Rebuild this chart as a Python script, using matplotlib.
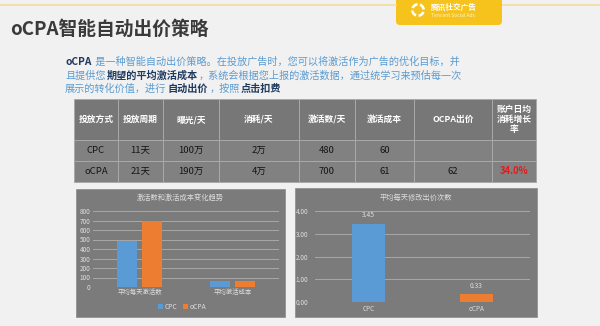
import matplotlib
matplotlib.use("Agg")
import matplotlib.pyplot as plt
from matplotlib.patches import Rectangle, FancyBboxPatch, Wedge
import numpy as np

plt.rcParams['font.family'] = ['Noto Sans CJK SC', 'DejaVu Sans']

# ---- data ----
title = "oCPA智能自动出价策略"
# paragraph runs: (text, bold?)
para_lines = [
    [("oCPA", True), (" 是一种智能自动出价策略。在投放广告时，您可以将激活作为广告的优化目标，并", False)],
    [("且提供您", False), ("期望的平均激活成本", True), ("，系统会根据您上报的激活数据，通过统学习来预估每一次", False)],
    [("展示的转化价值，进行", False), ("自动出价", True), ("，按照", False), ("点击扣费", True)],
]
table_header = ["投放方式", "投放周期", "曝光/天", "消耗/天", "激活数/天", "激活成本", "OCPA出价", "账户日均\n消耗增长\n率"]
table_rows = [
    ["CPC", "11天", "100万", "2万", "480", "60", "", ""],
    ["oCPA", "21天", "190万", "4万", "700", "61", "62", "34.0%"],
]

chart1_title = "激活数和激活成本变化趋势"
chart1_cats = ["平均每天激活数", "平均激活成本"]
chart1_cpc = [480, 60]
chart1_ocpa = [700, 61]

chart2_title = "平均每天修改出价次数"
chart2_cats = ["CPC", "oCPA"]
chart2_vals = [3.45, 0.33]

BLUE = "#5b9bd5"
ORANGE = "#ed7d31"
CHART_BG = "#7b7b7b"
CHART_TXT = "#dedede"
GRID = "#a8a8a8"

W, H = 600, 326
fig = plt.figure(figsize=(6, 3.26), dpi=100)
fig.patch.set_facecolor("#f1f1f1")

# full-figure axes in pixel units for slide decoration
bg = fig.add_axes([0, 0, 1, 1])
bg.set_xlim(0, W)
bg.set_ylim(H, 0)
bg.axis("off")

# top line and logo
bg.plot([0, 396], [5, 5], color="#f3dc9c", lw=1.2)
bg.plot([503, 600], [5, 5], color="#f3dc9c", lw=1.2)
bg.add_patch(FancyBboxPatch((396, -10), 106, 35, boxstyle="round,pad=0,rounding_size=4",
                            fc="#f6c21c", ec="none"))
for a in [20, 110, 200, 290]:
    bg.add_patch(Wedge((418, 10), 7, a, a + 65, width=2.6, fc="white", ec="none"))
bg.text(431, 7, "腾讯社交广告", fontsize=5.5, color="white", va="center", ha="left", fontweight="bold")
bg.text(431, 15.5, "Tencent Social Ads", fontsize=3.6, color="#fff3c8", va="center", ha="left")

# title
bg.text(10, 29, title, fontsize=13.5, fontweight="bold", color="#3a3a3a", va="center", ha="left")

# paragraph
fig.canvas.draw()
renderer = fig.canvas.get_renderer()
y0 = 62
for i, line in enumerate(para_lines):
    x = 65
    y = y0 + i * 13.3
    for txt, bold in line:
        t = bg.text(x, y, txt, fontsize=7.3, va="center", ha="left",
                    fontweight="bold" if bold else "normal",
                    color="#1f3a5f" if bold else "#5a9bd0")
        bb = t.get_window_extent(renderer)
        x += bb.width + 1.2

# table
col_edges = [74, 118, 163, 219, 299, 355, 414, 492, 536]
row_edges = [99, 140, 161, 182]
for r in range(3):
    y_top, y_bot = row_edges[r], row_edges[r + 1]
    for c in range(len(col_edges) - 1):
        x_l, x_r = col_edges[c], col_edges[c + 1]
        fc = "#777777" if r == 0 else "#818181"
        bg.add_patch(Rectangle((x_l, y_top), x_r - x_l, y_bot - y_top, fc=fc, ec="#a9a9a9", lw=0.7))
        xc, yc = (x_l + x_r) / 2, (y_top + y_bot) / 2
        if r == 0:
            parts = table_header[c].split("\n")
            n = len(parts)
            for k, p in enumerate(parts):
                bg.text(xc, yc + (k - (n - 1) / 2) * 10.2, p, fontsize=6.3, fontweight="bold",
                        color="white", ha="center", va="center")
        else:
            val = table_rows[r - 1][c]
            red = val.endswith("%")
            bg.text(xc, yc, val, fontsize=6.8, color="#e41a1a" if red else "#151515",
                    fontweight="bold" if red else "normal", ha="center", va="center")

# chart boxes
bg.add_patch(Rectangle((76, 189), 209, 128, fc=CHART_BG, ec="#8a8a8a", lw=0.5))
bg.add_patch(Rectangle((295, 188), 242, 129, fc=CHART_BG, ec="#8a8a8a", lw=0.5))
bg.text(180, 198, chart1_title, fontsize=5.2, color=CHART_TXT, ha="center", va="center")
bg.text(416, 198, chart2_title, fontsize=5.2, color=CHART_TXT, ha="center", va="center")


def px_axes(x0, x1, ytop, ybot):
    return fig.add_axes([x0 / W, 1 - ybot / H, (x1 - x0) / W, (ybot - ytop) / H])


def style(ax):
    ax.set_facecolor("none")
    for s in ax.spines.values():
        s.set_visible(False)
    ax.tick_params(length=0, labelsize=4.6, labelcolor=CHART_TXT, pad=2)
    ax.yaxis.grid(True, color=GRID, lw=0.7)
    ax.set_axisbelow(True)


# chart 1
ax1 = px_axes(93, 279, 211, 287)
style(ax1)
xs = np.arange(len(chart1_cats))
bw = 0.22
ax1.bar(xs - 0.137, chart1_cpc, bw, color=BLUE, label="CPC")
ax1.bar(xs + 0.137, chart1_ocpa, bw, color=ORANGE, label="oCPA")
ax1.set_xlim(-0.5, 1.5)
ax1.set_ylim(0, 800)
ax1.set_yticks(range(0, 801, 100))
ax1.set_xticks(xs, chart1_cats)
ax1.tick_params(axis="x", pad=1)
leg = ax1.legend(loc="upper center", bbox_to_anchor=(0.48, -0.17), ncol=2, frameon=False,
                 fontsize=4.8, handlelength=0.7, handleheight=0.7, handletextpad=0.3,
                 columnspacing=0.8, borderaxespad=0)
for t in leg.get_texts():
    t.set_color(CHART_TXT)

# chart 2
ax2 = px_axes(315, 530, 211, 302)
style(ax2)
xs2 = np.arange(len(chart2_cats))
bars = ax2.bar(xs2, chart2_vals, 0.31, color=[BLUE, ORANGE])
ax2.set_xlim(-0.5, 1.5)
ax2.set_ylim(0, 4)
ax2.set_yticks(np.arange(0, 4.01, 1.0))
ax2.set_yticklabels([f"{v:.2f}" for v in np.arange(0, 4.01, 1.0)])
ax2.tick_params(axis="y", pad=5)
ax2.set_xticks(xs2, chart2_cats)
ax2.bar_label(bars, labels=[f"{v:.2f}" for v in chart2_vals], padding=3,
              fontsize=4.8, color=CHART_TXT)

fig.savefig("out.png", dpi=100, facecolor=fig.get_facecolor())
